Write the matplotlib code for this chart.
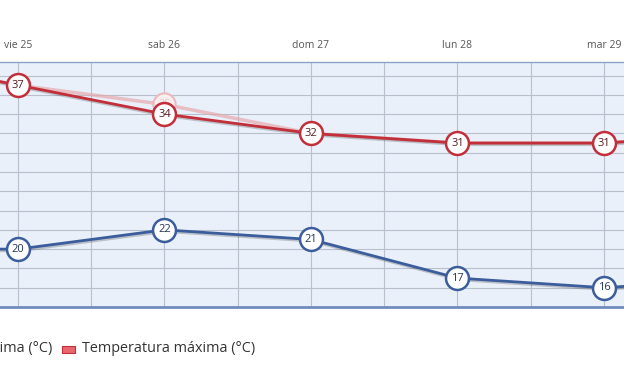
import matplotlib
matplotlib.use('Agg')
import matplotlib.pyplot as plt
import matplotlib.patheffects as pe
import matplotlib.patches as mpatches
import numpy as np

# data (the chart is a crop: first and last day are only partly visible)
days = ['jue 24', 'vie 25', 'sab 26', 'dom 27', 'lun 28', 'mar 29', 'mié 30']
t_max = [40, 37, 34, 32, 31, 31, 32]
t_max_faded = [40, 37, 35, 32, 31, 31, 32]
t_min = [20, 20, 22, 21, 17, 16, 17]

RED = '#c22f3a'
BLUE = '#3c5d9c'
x = np.arange(len(days))

fig = plt.figure(figsize=(6.24, 3.77), dpi=100)
ax = fig.add_axes([0, 70 / 377, 1, 245 / 377])
ax.set_facecolor('#e9f0fa')

ax.set_yticks(np.arange(16, 40, 2))
ax.set_xticks(np.arange(0, len(days) - 0.5, 0.5))
ax.set_xlim(1 - 18 / 146.5, 5 + 20 / 146.5)
ax.set_ylim(14, 39.4)
ax.grid(True, color='#b7c0cc', lw=0.8)
ax.tick_params(left=False, labelleft=False, bottom=False, labelbottom=False, top=False)

for s in ['left', 'right']:
    ax.spines[s].set_visible(False)
ax.spines['top'].set_color('#8aa3c6')
ax.spines['top'].set_linewidth(1.0)
ax.spines['bottom'].set_color('#6f8dbd')
ax.spines['bottom'].set_linewidth(2.0)

# day labels above the plot (only the ones inside the crop)
for i, d in enumerate(days[1:-1], start=1):
    ax.text(i, 1.068, d, transform=ax.get_xaxis_transform(), ha='center', va='center',
            fontsize=7.5, color='#555555', family='Open Sans', clip_on=False)

shadow = [pe.SimpleLineShadow(offset=(0.8, -1.2), alpha=0.25, shadow_color='#333333'), pe.Normal()]

# faded series (inactive)
ax.plot(x, t_max_faded, color='#e6a9ae', lw=2.5, alpha=0.7, zorder=2)
ax.plot(x[2], t_max_faded[2], 'o', ms=16, mfc='#fbeff0', mec='#ebb9bd', mew=1.5, zorder=2)
ax.text(x[2], t_max_faded[2], str(t_max_faded[2]), ha='center', va='center', fontsize=8,
        color='#e7c3c6', family='Open Sans', zorder=2, clip_on=True)

for vals, col, tcol in [(t_max, RED, '#5a1a20'), (t_min, BLUE, '#24365c')]:
    ax.plot(x, vals, color=col, lw=2, zorder=3, path_effects=shadow)
    ax.plot(x, vals, 'o', ms=16.5, mfc='white', mec=col, mew=1.8, zorder=4)
    for xi, v in zip(x, vals):
        ax.text(xi, v, str(v), ha='center', va='center', fontsize=8, color=tcol,
                family='Open Sans', zorder=5, clip_on=True)

# legend (partly cut off at the left edge)
fig.text(52 / 624, 1 - 349 / 377, 'Temperatura mínima (°C)', ha='right', va='center',
         fontsize=10.4, color='#333333', family='Open Sans')
fig.patches.append(mpatches.Rectangle((62 / 624, 1 - 353 / 377), 13 / 624, 7 / 377,
                                      transform=fig.transFigure, fc='#e8676b', ec=RED, lw=0.8))
fig.text(82 / 624, 1 - 349 / 377, 'Temperatura máxima (°C)', ha='left', va='center',
         fontsize=10.4, color='#333333', family='Open Sans')

fig.savefig('out.png', dpi=100)
